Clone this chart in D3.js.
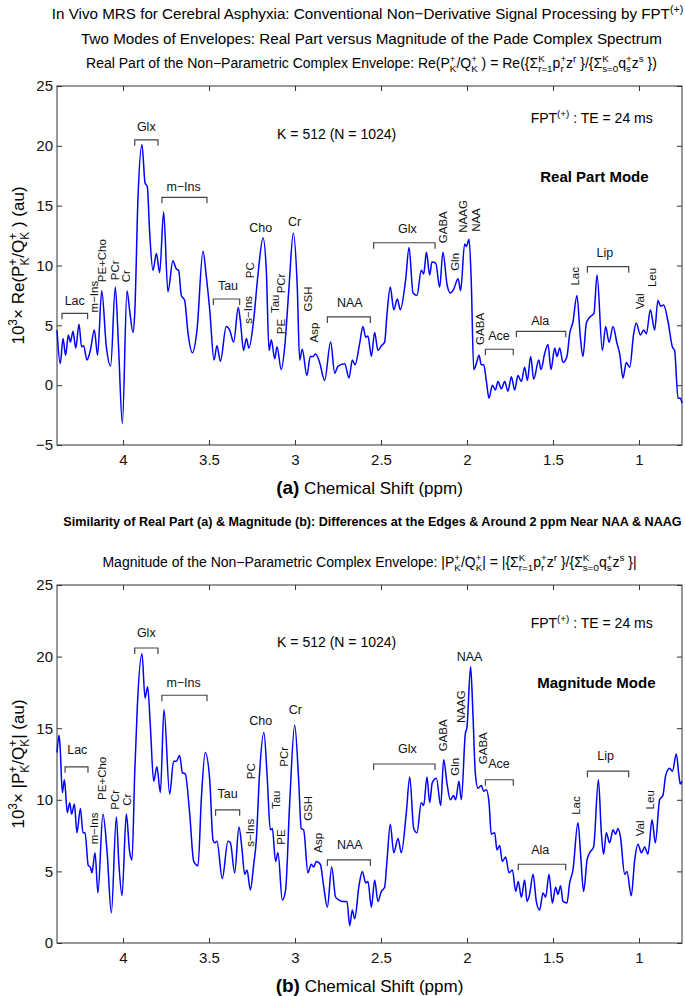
<!DOCTYPE html>
<html><head><meta charset="utf-8">
<script src="https://cdn.jsdelivr.net/npm/d3@7"></script>
<style>
html,body{margin:0;padding:0;background:#fff;}
svg{display:block;font-family:"Liberation Sans",Arial,Helvetica,sans-serif;}
</style></head>
<body>
<svg id="chart" width="685" height="996"></svg>
<script>
// ---------------- DATA ----------------
const xTicks = [4, 3.5, 3, 2.5, 2, 1.5, 1];
const yTicksA = [-5, 0, 5, 10, 15, 20, 25];
const yTicksB = [0, 5, 10, 15, 20, 25];

// Panel (a): real part, [ppm, 10^3 x Re]
const realPart = [
[4.384,4.6],[4.365,1.8],[4.349,3.9],[4.334,2.5],[4.318,4.2],[4.306,3.6],[4.291,4.5],[4.275,3.1],[4.256,5.1],[4.241,3.2],
[4.229,3.3],[4.210,2.1],[4.190,2.9],[4.167,4.6],[4.148,2.5],[4.124,7.9],[4.097,3.2],[4.072,1.6],[4.045,8.2],[4.027,3.5],
[4.004,-3.2],[3.977,7.9],[3.962,6.3],[3.942,4.4],[3.932,6.0],[3.913,15.7],[3.890,20.1],[3.872,16.9],[3.859,16.6],[3.845,12.7],
[3.826,9.6],[3.806,11.0],[3.787,9.4],[3.764,14.5],[3.739,7.8],[3.710,10.4],[3.690,9.7],[3.677,9.6],[3.661,7.5],[3.642,7.1],
[3.622,4.3],[3.597,2.7],[3.570,4.6],[3.535,11.2],[3.516,9.1],[3.496,6.3],[3.471,2.1],[3.454,3.3],[3.434,2.0],[3.400,4.9],
[3.380,4.6],[3.357,3.6],[3.330,6.5],[3.318,5.4],[3.299,2.9],[3.283,3.9],[3.268,3.1],[3.241,5.4],[3.215,9.3],[3.186,12.3],
[3.167,9.6],[3.151,2.9],[3.138,3.8],[3.118,2.2],[3.105,3.2],[3.080,1.3],[3.060,3.2],[3.035,8.2],[3.010,12.7],[2.987,8.2],
[2.973,2.1],[2.958,3.0],[2.931,0.8],[2.911,2.4],[2.896,2.4],[2.880,2.6],[2.857,1.9],[2.828,0.4],[2.793,3.6],
[2.769,1.0],[2.750,1.6],[2.711,1.8],[2.686,0.6],[2.667,2.1],[2.651,1.7],[2.624,3.5],[2.605,4.9],[2.589,4.0],[2.576,4.1],
[2.556,2.4],[2.537,4.4],[2.518,2.9],[2.498,3.3],[2.479,3.6],[2.465,6.0],[2.446,8.2],[2.426,6.3],[2.405,7.2],[2.388,6.3],
[2.357,8.8],[2.337,11.5],[2.314,7.7],[2.291,7.5],[2.266,9.6],[2.252,9.3],[2.236,11.1],[2.217,9.2],[2.204,10.3],[2.182,10.2],
[2.159,8.2],[2.140,11.1],[2.116,8.4],[2.097,7.7],[2.078,8.0],[2.052,8.9],[2.037,7.9],[2.014,11.8],[2.004,11.6],[1.988,12.2],
[1.975,8.5],[1.961,1.3],[1.946,1.8],[1.930,2.5],[1.917,1.7],[1.903,1.7],[1.888,0.4],[1.872,-1.1],[1.853,0.0],[1.835,-0.4],
[1.820,0.3],[1.800,-0.3],[1.781,0.3],[1.762,-0.5],[1.742,0.7],[1.723,-0.4],[1.704,0.8],[1.684,0.3],[1.665,1.5],[1.649,0.4],
[1.630,2.4],[1.612,0.5],[1.583,2.1],[1.570,1.3],[1.549,2.6],[1.529,3.4],[1.512,1.3],[1.490,3.1],[1.477,2.4],[1.461,3.1],
[1.442,1.9],[1.419,2.4],[1.403,4.3],[1.384,5.3],[1.361,7.5],[1.341,4.0],[1.326,2.4],[1.306,5.2],[1.291,5.6],[1.277,5.8],
[1.262,6.0],[1.244,9.2],[1.213,2.9],[1.194,4.9],[1.174,3.6],[1.151,4.9],[1.128,3.5],[1.112,2.6],[1.093,0.6],[1.074,1.9],
[1.054,1.5],[1.031,4.3],[1.016,5.2],[0.992,4.2],[0.973,4.6],[0.957,4.3],[0.934,6.3],[0.909,4.6],[0.890,7.1],[0.874,6.6],
[0.857,6.7],[0.831,5.3],[0.806,3.2],[0.793,2.9],[0.773,-1.1],[0.760,-1.1],[0.750,-1.5]
];

// Panel (b): magnitude, [ppm, 10^3 x |.|]
const magnitude = [
[4.384,13.3],[4.372,14.5],[4.365,13.5],[4.353,10.5],[4.341,11.4],[4.324,9.1],[4.310,9.8],[4.299,9.0],[4.283,9.7],[4.268,7.7],
[4.248,9.4],[4.233,7.7],[4.221,7.7],[4.202,5.4],[4.190,5.3],[4.181,4.9],[4.163,6.3],[4.146,3.5],[4.117,9.0],[4.093,6.4],
[4.068,2.1],[4.039,8.8],[4.025,5.7],[4.006,3.3],[3.981,9.0],[3.962,6.4],[3.948,5.8],[3.932,11.9],[3.917,16.5],[3.890,20.2],
[3.872,17.1],[3.857,17.9],[3.841,15.1],[3.822,11.3],[3.803,12.3],[3.783,10.5],[3.762,16.3],[3.729,10.4],[3.706,12.7],[3.690,12.7],
[3.671,13.1],[3.655,11.9],[3.638,11.8],[3.613,9.1],[3.589,5.7],[3.564,5.4],[3.545,10.0],[3.522,13.3],[3.496,11.4],[3.477,7.2],
[3.466,7.0],[3.454,7.1],[3.423,4.5],[3.390,7.1],[3.376,7.0],[3.351,4.9],[3.326,8.1],[3.308,6.5],[3.293,4.8],[3.279,5.1],
[3.260,3.7],[3.241,5.4],[3.225,7.2],[3.206,11.9],[3.181,14.7],[3.161,11.4],[3.144,7.9],[3.132,8.0],[3.113,5.7],[3.099,6.3],
[3.074,3.0],[3.055,3.7],[3.031,9.8],[3.002,15.2],[2.979,11.4],[2.964,8.0],[2.950,7.9],[2.925,4.9],[2.906,5.5],[2.892,5.3],
[2.876,5.7],[2.853,5.5],[2.834,4.0],[2.812,2.5],[2.787,5.3],
[2.764,3.2],[2.744,3.0],[2.721,2.9],[2.698,2.9],[2.682,1.2],[2.667,2.3],[2.653,1.7],[2.628,4.0],[2.609,5.0],[2.589,4.2],
[2.576,4.3],[2.556,2.5],[2.537,4.4],[2.518,2.9],[2.498,3.6],[2.479,3.9],[2.465,5.8],[2.446,8.3],[2.426,6.3],[2.401,7.3],
[2.382,6.3],[2.353,9.1],[2.333,11.6],[2.310,8.0],[2.291,7.7],[2.266,9.8],[2.252,9.6],[2.233,11.6],[2.217,9.8],[2.202,11.2],
[2.178,11.5],[2.153,9.6],[2.136,12.8],[2.116,11.1],[2.097,10.0],[2.078,10.3],[2.066,10.0],[2.047,11.3],[2.033,10.0],[2.010,14.6],
[2.000,15.1],[1.979,19.3],[1.965,15.8],[1.952,11.9],[1.936,10.8],[1.917,11.0],[1.903,10.6],[1.888,10.7],[1.872,9.8],[1.859,7.6],
[1.839,7.7],[1.826,6.5],[1.810,6.8],[1.795,5.7],[1.775,6.0],[1.756,4.9],[1.736,5.1],[1.717,3.6],[1.702,4.3],[1.684,3.2],
[1.665,4.4],[1.651,2.9],[1.636,3.4],[1.616,4.8],[1.597,2.9],[1.578,2.3],[1.558,3.5],[1.543,3.2],[1.523,4.8],[1.504,2.8],
[1.485,3.9],[1.471,3.4],[1.456,4.0],[1.442,2.9],[1.419,2.8],[1.403,4.2],[1.384,5.1],[1.355,8.4],[1.339,6.1],[1.322,3.6],
[1.302,5.8],[1.287,6.3],[1.264,6.7],[1.236,11.4],[1.219,7.7],[1.206,6.2],[1.190,7.7],[1.171,7.0],[1.151,7.9],[1.136,7.6],
[1.122,8.0],[1.109,7.5],[1.083,4.8],[1.070,5.0],[1.045,3.3],[1.025,5.8],[1.006,6.9],[0.986,6.3],[0.967,6.7],[0.948,6.2],
[0.924,8.6],[0.905,7.0],[0.880,10.0],[0.861,10.3],[0.845,11.7],[0.822,12.2],[0.806,12.0],[0.783,13.2],[0.768,11.7],[0.760,11.1],
[0.750,11.3]
];

// Metabolite labels: [text, ppm, value, rotated]
const labelsA = [
["Glx",3.865,21.6,0],["m\u2212Ins",3.648,16.6,0],["Lac",4.281,7.1,0],["Tau",3.390,8.3,0],["Cho",3.200,13.2,0],
["Cr",3.002,13.7,0],["NAA",2.682,6.9,0],["Glx",2.347,13.1,0],["Ace",1.814,4.1,0],["Ala",1.574,5.4,0],["Lip",1.198,11.1,0],
["m\u2212Ins",4.169,7.4,1],["PE+Cho",4.124,10.4,1],["PCr",4.049,9.6,1],["Cr",3.981,9.1,1],["s\u2212Ins",3.273,6.3,1],
["PC",3.260,9.6,1],["Tau",3.119,6.8,1],["PE",3.080,4.9,1],["PCr",3.084,8.5,1],["GSH",2.925,7.2,1],["Asp",2.892,4.4,1],
["GABA",2.140,13.2,1],["Gln",2.072,10.3,1],["NAAG",2.023,14.1,1],["NAA",1.950,13.8,1],["GABA",1.922,4.7,1],
["Lac",1.370,9.1,1],["Val",0.996,7.0,1],["Leu",0.926,9.0,1]
];
const labelsB = [
["Lac",4.266,13.5,0],["Glx",3.865,21.7,0],["m\u2212Ins",3.648,18.2,0],["Tau",3.392,10.4,0],["Cho",3.200,15.5,0],
["Cr",2.998,16.3,0],["NAA",2.682,6.9,0],["Glx",2.347,13.6,0],["NAA",1.985,20.0,0],["Ace",1.814,12.5,0],
["Ala",1.574,6.5,0],["Lip",1.194,13.1,0],
["m\u2212Ins",4.169,8.0,1],["PE+Cho",4.122,11.5,1],["PCr",4.049,10.0,1],["Cr",3.979,10.0,1],["s\u2212Ins",3.264,7.7,1],
["PC",3.254,12.0,1],["Tau",3.109,10.0,1],["PE",3.080,7.4,1],["PCr",3.064,13.0,1],["GSH",2.925,9.4,1],["Asp",2.867,7.0,1],
["GABA",2.140,14.5,1],["Gln",2.070,12.3,1],["NAAG",2.037,16.5,1],["GABA",1.907,13.6,1],["Lac",1.364,9.6,1],
["Val",0.992,8.0,1],["Leu",0.938,10.0,1]
];
// Brackets: [ppmStart, ppmEnd, value]
const bracketsA = [
[3.932,3.797,20.5],[3.774,3.512,15.7],[4.355,4.206,6.0],[3.475,3.322,7.2],[2.812,2.562,5.7],
[2.543,2.186,11.9],[1.893,1.731,3.0],[1.713,1.426,4.5],[1.300,1.060,9.9]
];
const bracketsB = [
[4.337,4.204,12.3],[3.932,3.797,20.6],[3.774,3.512,17.3],[3.462,3.322,9.3],[2.812,2.562,5.8],
[2.543,2.186,12.5],[1.893,1.731,11.4],[1.702,1.426,5.5],[1.300,1.060,12.0]
];
// Info text anchors: [ppm, value]
const infoA = {k:[2.758,21.0], fpt:[1.275,21.9], mode:[1.259,17.4], modeText:"Real Part Mode"};
const infoB = {k:[2.758,21.0], fpt:[1.275,22.0], mode:[1.248,18.2], modeText:"Magnitude Mode"};

// ---------------- DRAW ----------------
const svg = d3.select("#chart");
const L = 57, R = 682;
const x = d3.scaleLinear().domain([4.384, 0.75]).range([L, R]);
const yA = d3.scaleLinear().domain([-5, 25]).range([445, 86]);
const yB = d3.scaleLinear().domain([0, 25]).range([943, 585]);

function rich(text, parts, fs) {
  const supDy = -0.42 * fs, subDy = 0.3 * fs, small = 0.7 * fs;
  let cur = 0, pendingDx = 0;
  for (const p of parts) {
    if (typeof p === "string") {
      const t = text.append("tspan").text(p).attr("dy", -cur);
      if (pendingDx) t.attr("dx", pendingDx);
      pendingDx = 0; cur = 0;
    } else {
      let supW = 0;
      if (p.sup != null) {
        const t = text.append("tspan").text(p.sup).attr("font-size", small).attr("dy", supDy - cur);
        if (pendingDx) t.attr("dx", pendingDx);
        pendingDx = 0; cur = supDy;
        supW = t.node().getComputedTextLength();
      }
      if (p.sub != null) {
        const t = text.append("tspan").text(p.sub).attr("font-size", small).attr("dy", subDy - cur);
        const dx = pendingDx + (p.sup != null ? -supW : 0);
        if (dx) t.attr("dx", dx);
        pendingDx = 0; cur = subDy;
        const subW = t.node().getComputedTextLength();
        if (p.sup != null && supW > subW) pendingDx = supW - subW;
      }
    }
  }
}

// Titles
const cx = (L + R) / 2;
rich(svg.append("text").attr("x", cx - 2).attr("y", 19).attr("text-anchor", "middle").attr("font-size", 15.2),
  ["In Vivo MRS for Cerebral Asphyxia: Conventional Non\u2212Derivative Signal Processing by FPT", {sup:"(+)"}], 15.2);
svg.append("text").attr("x", cx + 2).attr("y", 44).attr("text-anchor", "middle").attr("font-size", 15.2)
  .text("Two Modes of Envelopes: Real Part versus Magnitude of the Pade Complex Spectrum");
rich(svg.append("text").attr("x", cx + 2).attr("y", 68).attr("text-anchor", "middle").attr("font-size", 14),
  ["Real Part of the Non\u2212Parametric Complex Envelope: Re(P", {sup:"+",sub:"K"}, "/Q", {sup:"+",sub:"K"},
   " ) = Re({\u03A3", {sup:"K",sub:"r=1"}, "p", {sup:"+",sub:"r"}, "z", {sup:"r"}, " }/{\u03A3", {sup:"K",sub:"s=0"},
   "q", {sup:"+",sub:"s"}, "z", {sup:"s"}, " })"], 14);
svg.append("text").attr("x", cx + 3).attr("y", 526).attr("text-anchor", "middle").attr("font-size", 12.6)
  .attr("font-weight", "bold")
  .text("Similarity of Real Part (a) & Magnitude (b): Differences at the Edges & Around 2 ppm Near NAA & NAAG");
rich(svg.append("text").attr("x", cx).attr("y", 567).attr("text-anchor", "middle").attr("font-size", 14),
  ["Magnitude of the Non\u2212Parametric Complex Envelope: |P", {sup:"+",sub:"K"}, "/Q", {sup:"+",sub:"K"},
   "| = |{\u03A3", {sup:"K",sub:"r=1"}, "p", {sup:"+",sub:"r"}, "z", {sup:"r"}, " }/{\u03A3", {sup:"K",sub:"s=0"},
   "q", {sup:"+",sub:"s"}, "z", {sup:"s"}, " }|"], 14);

function panel(y, yTicks, data, labels, brackets, info, letter, ylabParts) {
  const g = svg.append("g");
  const top = y.range()[1], bot = y.range()[0];
  const axStyle = sel => {
    sel.select(".domain").remove();
    sel.selectAll(".tick line").attr("stroke", "#333");
    sel.selectAll(".tick text").attr("fill", "#111").attr("font-size", 15)
      .attr("font-family", "'Liberation Sans',Arial,sans-serif");
  };
  g.append("g").attr("transform", `translate(0,${bot})`)
    .call(d3.axisBottom(x).tickValues(xTicks).tickFormat(d3.format("")).tickSizeInner(-5).tickSizeOuter(0).tickPadding(9))
    .call(axStyle);
  g.append("g").attr("transform", `translate(0,${top})`)
    .call(d3.axisTop(x).tickValues(xTicks).tickFormat("").tickSizeInner(-5).tickSizeOuter(0))
    .call(axStyle);
  g.append("g").attr("transform", `translate(${L},0)`)
    .call(d3.axisLeft(y).tickValues(yTicks).tickFormat(d3.format("")).tickSizeInner(-5).tickSizeOuter(0).tickPadding(4))
    .call(axStyle);
  g.append("g").attr("transform", `translate(${R},0)`)
    .call(d3.axisRight(y).tickValues(yTicks).tickFormat("").tickSizeInner(-5).tickSizeOuter(0))
    .call(axStyle);
  g.append("rect").attr("x", L).attr("y", top).attr("width", R - L).attr("height", bot - top)
    .attr("fill", "none").attr("stroke", "#333").attr("stroke-width", 1);

  // curve
  const line = d3.line().x(d => x(d[0])).y(d => y(d[1])).curve(d3.curveMonotoneX);
  g.append("path").datum(data).attr("d", line).attr("fill", "none").attr("stroke", "#0000ff")
    .attr("stroke-width", 1.5).attr("stroke-linejoin", "round");

  // brackets
  g.selectAll(".br").data(brackets).join("path")
    .attr("d", d => {
      const x1 = x(d[0]), x2 = x(d[1]), yy = y(d[2]);
      return `M${x1},${yy + 6}V${yy}H${x2}V${yy + 6}`;
    })
    .attr("fill", "none").attr("stroke", "#444").attr("stroke-width", 1.2);

  // labels
  g.selectAll(".lb").data(labels).join("text")
    .attr("transform", d => `translate(${x(d[1])},${y(d[2])})` + (d[3] ? " rotate(-90)" : ""))
    .attr("text-anchor", "middle").attr("dy", "0.35em")
    .attr("font-size", d => d[3] ? 11.5 : 12.5).attr("fill", "#111")
    .text(d => d[0]);

  // info text
  g.append("text").attr("x", x(info.k[0])).attr("y", y(info.k[1])).attr("dy", "0.35em")
    .attr("text-anchor", "middle").attr("font-size", 14).text("K = 512 (N = 1024)");
  rich(g.append("text").attr("x", x(info.fpt[0])).attr("y", y(info.fpt[1])).attr("dy", "0.35em")
    .attr("text-anchor", "middle").attr("font-size", 14), ["FPT", {sup:"(+)"}, " : TE = 24 ms"], 14);
  g.append("text").attr("x", x(info.mode[0])).attr("y", y(info.mode[1])).attr("dy", "0.35em")
    .attr("text-anchor", "middle").attr("font-size", 15).attr("font-weight", "bold").text(info.modeText);

  // y label
  rich(g.append("text").attr("transform", `translate(24,${(top + bot) / 2}) rotate(-90)`)
    .attr("text-anchor", "middle").attr("font-size", 17), ylabParts, 17);

  // x label
  const xl = g.append("text").attr("x", cx).attr("y", bot + 49).attr("text-anchor", "middle");
  xl.append("tspan").attr("font-weight", "bold").attr("font-size", 19).text(letter);
  xl.append("tspan").attr("font-size", 17).text(" Chemical Shift (ppm)");
}

panel(yA, yTicksA, realPart, labelsA, bracketsA, infoA, "(a)",
  ["10", {sup:"3"}, "\u00D7 Re(P", {sup:"+",sub:"K"}, "/Q", {sup:"+",sub:"K"}, " ) (au)"]);
panel(yB, yTicksB, magnitude, labelsB, bracketsB, infoB, "(b)",
  ["10", {sup:"3"}, "\u00D7 |P", {sup:"+",sub:"K"}, "/Q", {sup:"+",sub:"K"}, "| (au)"]);
</script>
</body></html>
